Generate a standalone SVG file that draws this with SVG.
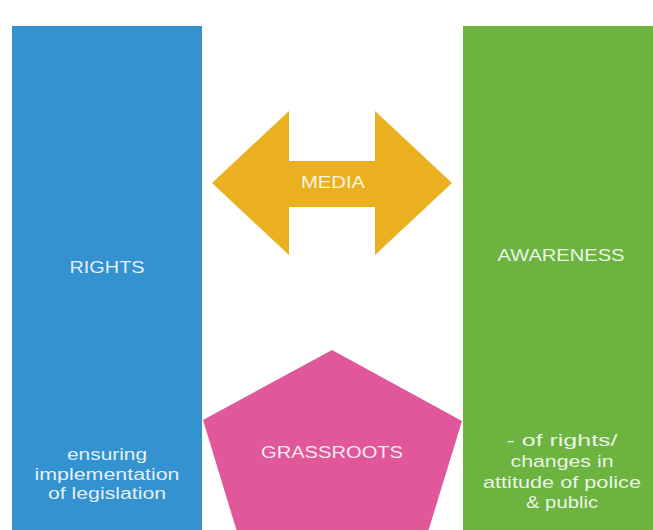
<svg xmlns="http://www.w3.org/2000/svg" width="653" height="530" viewBox="0 0 653 530">
  <style>
    .lbl { font-family: "Liberation Sans", Arial, sans-serif; font-size: 16px; text-anchor: middle; fill: #ffffff; fill-opacity: 0.88; }
  </style>
  <rect width="653" height="530" fill="#ffffff"/>
  <g id="rights">
    <rect x="12" y="26" width="190" height="504" fill="#3592d1"/>
    <text class="lbl" x="107" y="273" textLength="75" lengthAdjust="spacingAndGlyphs">RIGHTS</text>
    <text class="lbl" x="107" y="460" textLength="80" lengthAdjust="spacingAndGlyphs">ensuring</text>
    <text class="lbl" x="107" y="480" textLength="145" lengthAdjust="spacingAndGlyphs">implementation</text>
    <text class="lbl" x="107" y="499" textLength="118" lengthAdjust="spacingAndGlyphs">of legislation</text>
  </g>
  <g id="awareness">
    <rect x="463" y="26" width="190" height="504" fill="#6cb33f"/>
    <text class="lbl" x="561" y="261" textLength="127" lengthAdjust="spacingAndGlyphs">AWARENESS</text>
    <text class="lbl" x="562" y="446" textLength="111" lengthAdjust="spacingAndGlyphs">- of rights/</text>
    <text class="lbl" x="562" y="467" textLength="103" lengthAdjust="spacingAndGlyphs">changes in</text>
    <text class="lbl" x="562" y="488" textLength="158" lengthAdjust="spacingAndGlyphs">attitude of police</text>
    <text class="lbl" x="562" y="508" textLength="72" lengthAdjust="spacingAndGlyphs">&amp; public</text>
  </g>
  <g id="media">
    <polygon points="212,183 289,111 289,161 375,161 375,111 452,183 375,255 375,207 289,207 289,255" fill="#ebb020"/>
    <text class="lbl" x="333" y="188" textLength="64" lengthAdjust="spacingAndGlyphs">MEDIA</text>
  </g>
  <g id="grassroots">
    <polygon points="332,350 462,421 424,545 241,545 203,420" fill="#e0589a"/>
    <text class="lbl" x="332" y="458" textLength="142" lengthAdjust="spacingAndGlyphs">GRASSROOTS</text>
  </g>
</svg>
